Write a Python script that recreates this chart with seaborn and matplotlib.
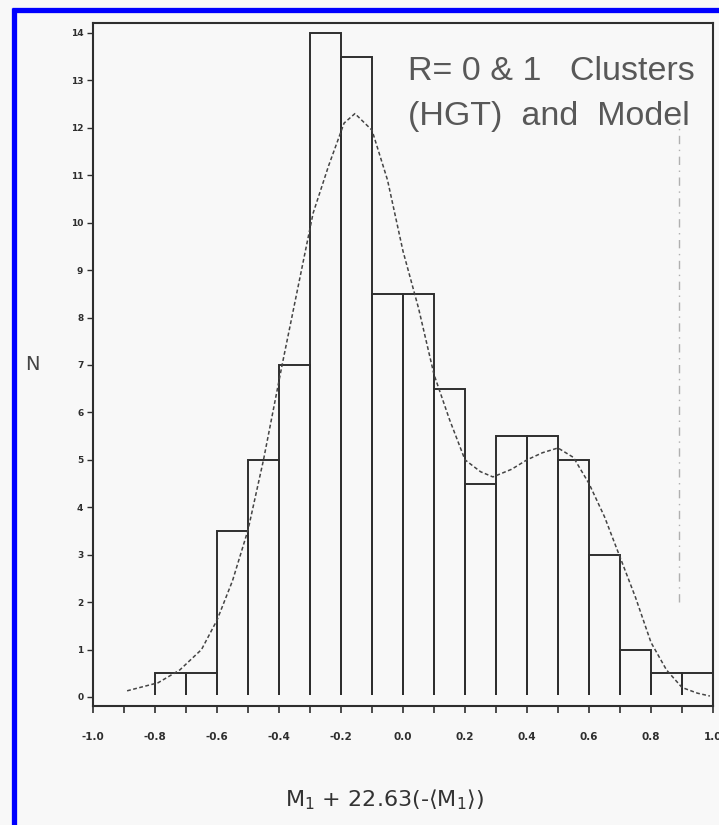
import pandas as pd
import seaborn as sns
import matplotlib.pyplot as plt
from matplotlib.lines import Line2D
from matplotlib.patches import Rectangle

# histogram of HGT clusters (bin edges every 0.1, counts as read)
bin_edges = [-1.0, -0.9, -0.8, -0.7, -0.6, -0.5, -0.4, -0.3, -0.2, -0.1, 0.0,
             0.1, 0.2, 0.3, 0.4, 0.5, 0.6, 0.7, 0.8, 0.9, 1.0]
counts = [0, 0, 0.5, 0.5, 3.5, 5, 7, 14, 13.5, 8.5,
          8.5, 6.5, 4.5, 5.5, 5.5, 5, 3, 1, 0.5, 0.5]

# model curve
model_x = [-0.89, -0.79, -0.72, -0.65, -0.60, -0.55, -0.50, -0.45, -0.39, -0.34,
           -0.29, -0.24, -0.19, -0.155, -0.10, -0.05, 0.0, 0.05, 0.10, 0.15,
           0.20, 0.25, 0.29, 0.35, 0.40, 0.45, 0.50, 0.55, 0.60, 0.65,
           0.70, 0.75, 0.80, 0.85, 0.90, 0.95, 0.99]
model_y = [0.13, 0.30, 0.57, 1.0, 1.62, 2.45, 3.52, 5.0, 7.0, 8.6,
           10.2, 11.2, 12.1, 12.3, 11.95, 10.9, 9.4, 8.2, 6.8, 5.85,
           5.0, 4.75, 4.64, 4.8, 5.0, 5.15, 5.25, 5.05, 4.5, 3.8,
           2.95, 2.1, 1.15, 0.57, 0.2, 0.08, 0.02]

xtick_vals = [-1.0, -0.9, -0.8, -0.7, -0.6, -0.5, -0.4, -0.3, -0.2, -0.1, 0.0,
              0.1, 0.2, 0.3, 0.4, 0.5, 0.6, 0.7, 0.8, 0.9, 1.0]
xtick_labels = ["-1.0", "", "-0.8", "", "-0.6", "", "-0.4", "", "-0.2", "", "0.0",
                "", "0.2", "", "0.4", "", "0.6", "", "0.8", "", "1.0"]
ytick_vals = list(range(0, 15))

# faint dash-dot mark on the right of the plot
mark_x = 0.89
mark_span = [2.0, 12.2]

centers = [(a + b) / 2 for a, b in zip(bin_edges[:-1], bin_edges[1:])]
hist_df = pd.DataFrame({"x": centers, "n": counts})
model_df = pd.DataFrame({"x": model_x, "y": model_y})

sns.set_style("ticks")
plt.rcParams["font.family"] = ["DejaVu Sans"]

bg = "#f8f8f8"
ink = "#2e2e2e"
label_font = ["Liberation Sans Narrow", "Liberation Sans", "DejaVu Sans"]

fig = plt.figure(figsize=(7.19, 8.25), dpi=100, facecolor=bg)
ax = fig.add_axes([93 / 719, 1 - 706 / 825, 620 / 719, 683 / 825])
ax.set_facecolor(bg)

sns.histplot(data=hist_df, x="x", weights="n", binwidth=0.1, binrange=(-1.0, 1.0),
             fill=False, element="bars", color=ink, linewidth=1.4, ax=ax)
# the printed bars have no bottom edge: clip just above zero
clip = Rectangle((-1.5, 0.04), 3.0, 20.0, transform=ax.transData)
for p in ax.patches:
    p.set_clip_path(clip)

sns.lineplot(data=model_df, x="x", y="y", color="#444444", linewidth=1.1,
             linestyle=(0, (2.5, 1.6)), ax=ax)
ax.plot([mark_x, mark_x], mark_span, color="#b0b0b0", linewidth=1.0,
        linestyle=(0, (6, 4, 1, 4)))

ax.set_xlim(-1.0, 1.0)
ax.set_ylim(-0.19, 14.21)
ax.set_xticks(xtick_vals)
ax.set_xticklabels(xtick_labels, fontsize=7.5, color=ink, fontweight="bold")
ax.set_yticks(ytick_vals)
ax.set_yticklabels([str(v) for v in ytick_vals], fontsize=6.5, color=ink,
                   fontweight="bold")
ax.tick_params(axis="x", length=5, width=1.2, pad=14, colors=ink)
ax.tick_params(axis="y", length=4, width=1.0, pad=3, colors=ink)
for s in ax.spines.values():
    s.set_visible(True)
    s.set_color(ink)
    s.set_linewidth(1.5)
ax.set_xlabel("")
ax.set_ylabel("")

fig.text(32 / 719, 1 - 365 / 825, "N", fontsize=14, color="#444444",
         ha="center", va="center")
fig.text(385 / 719, 1 - 800 / 825,
         r"M$_1$ + 22.63(-$\langle$M$_1\rangle$)",
         fontsize=16, color="#333333", ha="center", va="center")
fig.text(408 / 719, 1 - 72 / 825, "R= 0 & 1   Clusters", fontsize=24.5,
         family=label_font, color="#585858", ha="left", va="center")
fig.text(408 / 719, 1 - 117 / 825, "(HGT)  and  Model", fontsize=24.5,
         family=label_font, color="#585858", ha="left", va="center")

# blue frame along top and left edge
fig.add_artist(Line2D([12 / 719, 1.0], [1 - 9.5 / 825, 1 - 9.5 / 825],
                      transform=fig.transFigure, color="#0000ff", linewidth=3.8,
                      solid_capstyle="butt"))
fig.add_artist(Line2D([14.5 / 719, 14.5 / 719], [0, 1 - 7.6 / 825],
                      transform=fig.transFigure, color="#0000ff", linewidth=3.8,
                      solid_capstyle="butt"))

fig.savefig("out.png", dpi=100, facecolor=bg)
